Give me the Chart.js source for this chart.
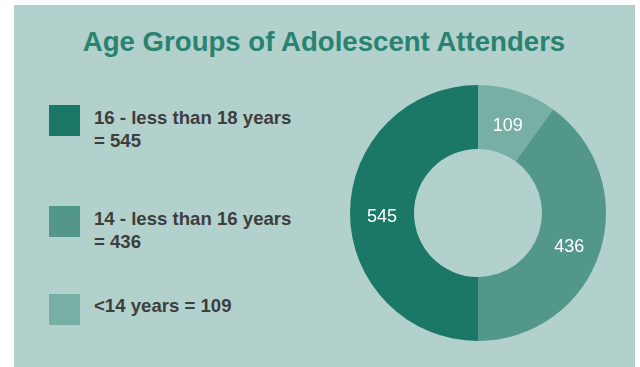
<!DOCTYPE html>
<html>
<head>
<meta charset="utf-8">
<script src="https://cdn.jsdelivr.net/npm/chart.js@4"></script>
<style>
  body { margin: 0; background: #ffffff; font-family: "Liberation Sans", Arial, sans-serif; }
  #panel { position: absolute; left: 14px; top: 5px; width: 621px; height: 362px; background: #b2d1cc; }
  #title { position: absolute; left: 0; top: 21px; width: 620px; text-align: center; margin: 0;
           font-size: 27.6px; font-weight: bold; color: #2a8270; line-height: 32px; }
  .item { position: absolute; left: 35px; }
  .swatch { position: absolute; left: 0; top: 0; width: 31px; height: 31px; }
  .text { position: absolute; left: 45px; top: 0; width: 260px; font-size: 18.6px; font-weight: bold;
          color: #3e3e3e; line-height: 23px; white-space: nowrap; }
  #chartBox { position: absolute; left: 334px; top: 78px; width: 260px; height: 260px; }
</style>
</head>
<body>
<div id="panel">
  <h1 id="title">Age Groups of Adolescent Attenders</h1>
  <div id="legend"></div>
  <div id="chartBox"><canvas id="ageChart" width="260" height="260"></canvas></div>
</div>
<script>
// values, in clockwise order from the top
const ageGroups = ['<14 years', '14 - less than 16 years', '16 - less than 18 years'];
const attenders = [109, 436, 545];
const sliceColors = ['#77afa5', '#52978a', '#1b7866'];

// legend on the left, listed oldest group first
const legendTops = [100, 201, 289];
const legendLines = [
    ['16 - less than 18 years', '= 545'],
    ['14 - less than 16 years', '= 436'],
    ['<14 years = 109']
];
const legendColors = [sliceColors[2], sliceColors[1], sliceColors[0]];

const legend = document.getElementById('legend');
legendLines.forEach((lines, i) => {
    const item = document.createElement('div');
    item.className = 'item';
    item.style.top = legendTops[i] + 'px';
    item.innerHTML = '<div class="swatch" style="background:' + legendColors[i] + '"></div>' +
        '<div class="text" style="top:' + (lines.length > 1 ? 1 : 0) + 'px">' +
        lines.map(l => l.replace('<', '&lt;')).join('<br>') + '</div>';
    legend.appendChild(item);
});

// white value labels in the middle of each ring segment
const sliceLabels = {
    id: 'sliceLabels',
    afterDatasetsDraw(chart) {
        const ctx = chart.ctx;
        const meta = chart.getDatasetMeta(0);
        ctx.save();
        ctx.fillStyle = '#ffffff';
        ctx.font = '18px "Liberation Sans", Arial, sans-serif';
        ctx.textAlign = 'center';
        ctx.textBaseline = 'middle';
        meta.data.forEach((arc, i) => {
            const pos = arc.tooltipPosition();
            ctx.fillText(String(attenders[i]), pos.x, pos.y + 4);
        });
        ctx.restore();
    }
};

new Chart(document.getElementById('ageChart').getContext('2d'), {
    type: 'doughnut',
    data: {
        labels: ageGroups,
        datasets: [{
            data: attenders,
            backgroundColor: sliceColors,
            borderWidth: 0
        }]
    },
    options: {
        responsive: false,
        animation: false,
        cutout: '50%',
        layout: { padding: 2 },
        plugins: {
            legend: { display: false },
            tooltip: { enabled: false }
        }
    },
    plugins: [sliceLabels]
});
</script>
</body>
</html>
